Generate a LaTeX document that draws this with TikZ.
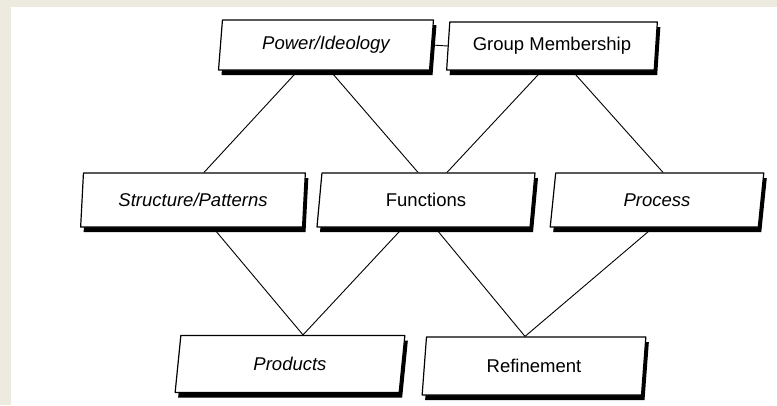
\documentclass[tikz,border=0pt]{standalone}
\usepackage{fontspec}
\setmainfont{Liberation Sans}
\usetikzlibrary{shapes.geometric,shadows}
\definecolor{paper}{HTML}{EDEAE0}
\begin{document}
\begin{tikzpicture}[
  x=1pt, y=-1pt,
  line cap=round,
  line join=round,
  every node/.style={font=\fontsize{18.5}{21}\selectfont},
  card/.style={trapezium, trapezium left angle=82, trapezium right angle=98,
    trapezium stretches=true, draw, line width=1.2pt, fill=white,
    inner sep=0pt,
    drop shadow={shadow xshift=3pt, shadow yshift=-5pt,
      fill=black, opacity=1}},
  tie/.style={line width=0.9pt}
]
  % Поле рисунка
  \useasboundingbox (0,0) rectangle (777,405);
  \fill[paper] (0,0) rectangle (777,405);
  \fill[white] (11,7) rectangle (777,405);

  % Верхний ряд
  \node[card, minimum width=215pt, minimum height=50pt] (pw)
    at (326,45) {\itshape Power/Ideology};
  \node[card, minimum width=211pt, minimum height=48pt] (gm)
    at (552,46) {Group Membership};

  % Средний ряд
  \node[card, minimum width=225pt, minimum height=54pt] (st)
    at (193,200) {\itshape Structure/Patterns};
  \node[card, minimum width=218pt, minimum height=54pt] (fn)
    at (426,200) {Functions};
  \node[card, minimum width=215pt, minimum height=54pt] (pr)
    at (657,200) {\itshape Process};

  % Нижний ряд
  \node[card, minimum width=230pt, minimum height=57pt] (pd)
    at (290,364) {\itshape Products};
  \node[card, minimum width=225pt, minimum height=58pt] (rf)
    at (534,366) {Refinement};

  % Связь между верхними блоками
  \draw[tie] (pw.east) -- (gm.west);

  % Связи сверху вниз
  \draw[tie] ([xshift=-28pt]pw.south) -- ([xshift=11pt]st.north);
  \draw[tie] ([xshift=4pt]pw.south)   -- ([xshift=-8pt]fn.north);
  \draw[tie] ([xshift=-10pt]gm.south) -- ([xshift=21pt]fn.north);
  \draw[tie] ([xshift=20pt]gm.south)  -- ([xshift=6pt]pr.north);

  % Связи с нижним рядом
  \draw[tie] ([xshift=20pt]st.south)  -- ([xshift=13pt]pd.north);
  \draw[tie] ([xshift=-23pt]fn.south) -- ([xshift=13pt]pd.north);
  \draw[tie] ([xshift=9pt]fn.south)   -- ([xshift=-9pt]rf.north);
  \draw[tie] ([xshift=-4pt]pr.south)  -- ([xshift=-9pt]rf.north);
\end{tikzpicture}
\end{document}
